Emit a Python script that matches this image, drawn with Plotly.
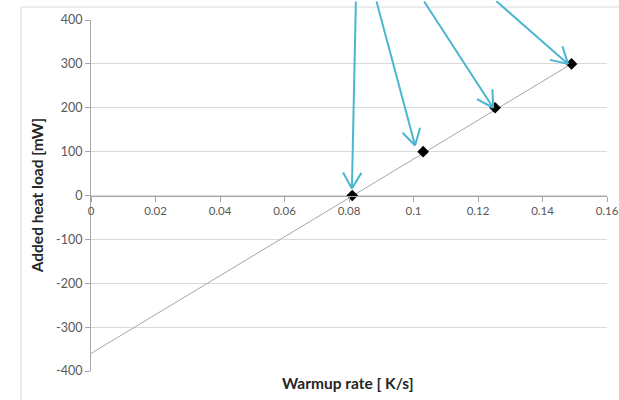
import math
import plotly.graph_objects as go

# ---- data ----
warmup_rate = [0.081, 0.103, 0.1253, 0.149]      # K/s
heat_load = [0, 100, 200, 300]                    # mW

trend_x = [0.0, 0.149]
trend_y = [-360, 300]

x_tickvals = [0, 0.02, 0.04, 0.06, 0.08, 0.10, 0.12, 0.14, 0.16]
x_ticktext = ["0", "0.02", "0.04", "0.06", "0.08", "0.1", "0.12", "0.14", "0.16"]
y_tickvals = [-400, -300, -200, -100, 0, 100, 200, 300, 400]
y_ticktext = ["-400", "-300", "-200", "-100", "0", "100", "200", "300", "400"]

# arrow tips (data coords) and tail offsets (pixels)
arrow_tip_x = [0.0809, 0.1005, 0.1247, 0.1479]
arrow_tip_y = [16, 114, 200, 300]
arrow_dx = [4, -39, -70, -73]
arrow_dy = [-193, -150, -111, -67]

FONT = "Lato"
TICK_COLOR = "#595959"
AXIS_COLOR = "#A6A6A6"
GRID_COLOR = "#D9D9D9"
ARROW_COLOR = "#4AB6CF"
WING_LEN = 20
WING_ANGLE = math.radians(30)

fig = go.Figure()

fig.add_trace(go.Scatter(
    x=trend_x, y=trend_y, mode="lines",
    line=dict(color="#A6A6A6", width=1),
    hoverinfo="skip", showlegend=False,
))
fig.add_trace(go.Scatter(
    x=warmup_rate, y=heat_load, mode="markers",
    marker=dict(symbol="diamond", size=9, color="black"),
    showlegend=False,
))

annotations = []
for tx, ty, dx, dy in zip(arrow_tip_x, arrow_tip_y, arrow_dx, arrow_dy):
    # shaft
    annotations.append(dict(
        x=tx, y=ty, xref="x", yref="y", text="", showarrow=True,
        ax=dx, ay=dy, axref="pixel", ayref="pixel",
        arrowhead=0, arrowwidth=2, arrowcolor=ARROW_COLOR,
    ))
    # open V head: two wings
    base = math.atan2(dy, dx)
    for sgn in (-1, 1):
        a = base + sgn * WING_ANGLE
        annotations.append(dict(
            x=tx, y=ty, xref="x", yref="y", text="", showarrow=True,
            ax=WING_LEN * math.cos(a), ay=WING_LEN * math.sin(a),
            axref="pixel", ayref="pixel",
            arrowhead=0, arrowwidth=2, arrowcolor=ARROW_COLOR,
        ))

annotations.append(dict(
    x=0.498, y=-0.034, xref="paper", yref="paper",
    text="<b>Warmup rate [ K/s]</b>", showarrow=False,
    xanchor="center", yanchor="middle",
    font=dict(family=FONT, size=15.5, color="#262626"),
))
annotations.append(dict(
    x=-0.105, y=0.5, xref="paper", yref="paper",
    text="<b>Added heat load [mW]</b>", showarrow=False, textangle=-90,
    xanchor="center", yanchor="middle",
    font=dict(family=FONT, size=15.5, color="#262626"),
))

fig.update_layout(
    width=619, height=400,
    margin=dict(l=91, r=12, t=20, b=29, autoexpand=False),
    paper_bgcolor="white", plot_bgcolor="white",
    font=dict(family=FONT, size=11, color=TICK_COLOR),
    annotations=annotations,
    shapes=[dict(
        type="rect", xref="paper", yref="paper",
        x0=-0.1357, x1=1.2, y0=-0.2, y1=1.037,
        line=dict(color=GRID_COLOR, width=1), fillcolor="rgba(0,0,0,0)",
        layer="below",
    )],
    xaxis=dict(
        range=[0, 0.16], tickvals=x_tickvals, ticktext=x_ticktext,
        showgrid=False, zeroline=False, automargin=False,
        showline=True, linecolor=AXIS_COLOR, linewidth=1,
        ticks="outside", ticklen=5, tickcolor=AXIS_COLOR,
        anchor="free", position=0.5,
        tickfont=dict(family=FONT, size=11.5, color=TICK_COLOR),
    ),
    yaxis=dict(
        range=[-400, 400], tickvals=y_tickvals, ticktext=y_ticktext,
        showgrid=True, gridcolor=GRID_COLOR, gridwidth=1, zeroline=False,
        automargin=False,
        showline=True, linecolor=AXIS_COLOR, linewidth=1,
        ticks="outside", ticklen=5, tickcolor=AXIS_COLOR,
        tickfont=dict(family=FONT, size=12.5, color=TICK_COLOR),
    ),
)

fig.write_html("out.html")
